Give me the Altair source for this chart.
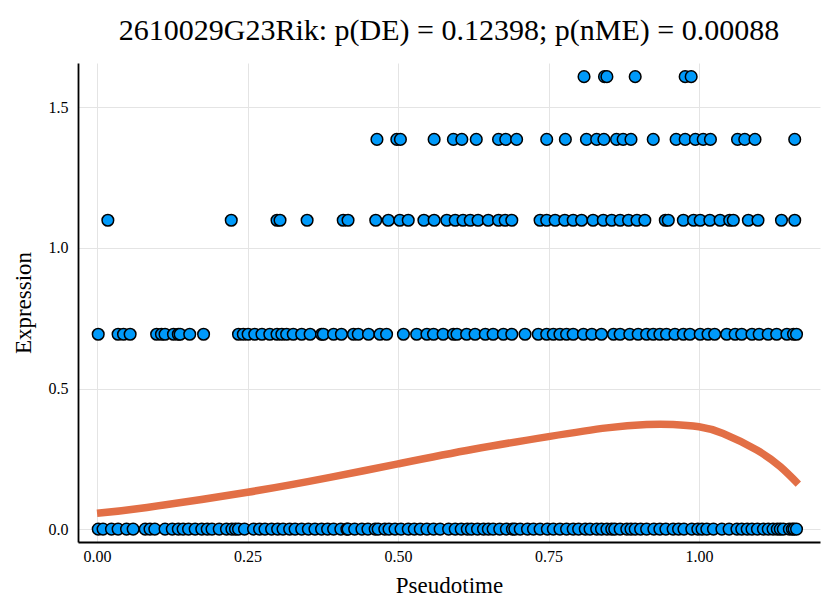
import altair as alt
import pandas as pd
import numpy as np

# Expression levels (log(1+count))
LEVELS = [0.0, 0.6931, 1.0986, 1.3863, 1.6094]

x_level0 = [0.002, 0.010, 0.024, 0.035, 0.049, 0.060, 0.080, 0.088, 0.096, 0.113, 0.125, 0.135,
            0.143, 0.152, 0.163, 0.174, 0.183, 0.191, 0.203, 0.215, 0.224, 0.230, 0.235, 0.245,
            0.260, 0.270, 0.279, 0.290, 0.300, 0.309, 0.320, 0.329, 0.340, 0.351, 0.362, 0.373,
            0.383, 0.393, 0.405, 0.415, 0.417, 0.428, 0.440, 0.450, 0.462, 0.467, 0.478, 0.485,
            0.495, 0.505, 0.517, 0.527, 0.537, 0.548, 0.559, 0.570, 0.584, 0.595, 0.605, 0.615,
            0.622, 0.632, 0.642, 0.650, 0.658, 0.669, 0.680, 0.690, 0.694, 0.703, 0.715, 0.725,
            0.736, 0.748, 0.758, 0.769, 0.780, 0.791, 0.800, 0.811, 0.819, 0.830, 0.838, 0.847,
            0.855, 0.860, 0.869, 0.880, 0.887, 0.894, 0.903, 0.913, 0.925, 0.935, 0.945, 0.957,
            0.966, 0.975, 0.988, 0.998, 1.005, 1.013, 1.024, 1.038, 1.050, 1.063, 1.071, 1.080,
            1.088, 1.097, 1.107, 1.115, 1.123, 1.130, 1.135, 1.140, 1.150, 1.155, 1.158, 1.162]

x_level1 = [0.002, 0.035, 0.044, 0.055, 0.099, 0.107, 0.113, 0.127, 0.135, 0.138, 0.154, 0.177,
            0.235, 0.243, 0.251, 0.262, 0.274, 0.287, 0.299, 0.307, 0.315, 0.326, 0.340, 0.354,
            0.373, 0.376, 0.393, 0.406, 0.426, 0.434, 0.451, 0.470, 0.481, 0.509, 0.531, 0.548,
            0.559, 0.575, 0.592, 0.598, 0.614, 0.628, 0.645, 0.658, 0.675, 0.689, 0.711, 0.733,
            0.747, 0.758, 0.769, 0.780, 0.791, 0.808, 0.822, 0.838, 0.858, 0.869, 0.885, 0.899,
            0.913, 0.924, 0.935, 0.946, 0.960, 0.974, 0.985, 1.002, 1.015, 1.026, 1.046, 1.060,
            1.071, 1.088, 1.100, 1.115, 1.129, 1.146, 1.157, 1.162]

x_level2 = [0.018, 0.223, 0.299, 0.304, 0.349, 0.409, 0.417, 0.463, 0.484, 0.503, 0.517, 0.543,
            0.560, 0.581, 0.595, 0.608, 0.620, 0.633, 0.650, 0.667, 0.678, 0.689, 0.736, 0.747,
            0.761, 0.777, 0.791, 0.805, 0.824, 0.841, 0.855, 0.869, 0.883, 0.897, 0.910, 0.944,
            0.949, 0.974, 0.991, 1.002, 1.018, 1.035, 1.051, 1.057, 1.082, 1.098, 1.137, 1.159]

x_level3 = [0.465, 0.498, 0.504, 0.560, 0.592, 0.606, 0.630, 0.667, 0.679, 0.697, 0.747, 0.778,
            0.813, 0.830, 0.842, 0.863, 0.874, 0.887, 0.924, 0.962, 0.977, 0.994, 1.007, 1.019,
            1.064, 1.076, 1.093, 1.159]

x_level4 = [0.809, 0.843, 0.847, 0.894, 0.977, 0.987]

# Smooth fitted curve
curve_x = [0.000, 0.083, 0.250, 0.387, 0.500, 0.625, 0.750, 0.847, 0.913, 0.957, 1.000,
           1.040, 1.096, 1.135, 1.165]
curve_y = [0.056, 0.077, 0.131, 0.184, 0.232, 0.284, 0.329, 0.360, 0.372, 0.372, 0.364,
           0.340, 0.281, 0.222, 0.160]

x_ticks = [0.0, 0.25, 0.5, 0.75, 1.0]
y_ticks = [0.0, 0.5, 1.0, 1.5]

TITLE = "2610029G23Rik: p(DE) = 0.12398; p(nME) = 0.00088"
FONT = "Liberation Serif"

rows = []
for lvl, xs in zip(LEVELS, [x_level0, x_level1, x_level2, x_level3, x_level4]):
    for xv in xs:
        rows.append({"Pseudotime": xv, "Expression": lvl})
pts = pd.DataFrame(rows)
curve = pd.DataFrame({"Pseudotime": curve_x, "Expression": curve_y})

xscale = alt.Scale(domain=[-0.0316, 1.201], nice=False, zero=False)
yscale = alt.Scale(domain=[-0.046, 1.658], nice=False, zero=False)

xaxis = alt.Axis(values=x_ticks, format=".2f", title="Pseudotime", tickSize=0,
                 labelPadding=6, titlePadding=10)
yaxis = alt.Axis(values=y_ticks, format=".1f", title="Expression", tickSize=0,
                 labelPadding=10, titlePadding=13)

scatter = alt.Chart(pts).mark_circle(
    size=135, color="#009AFA", opacity=1, stroke="black", strokeWidth=1.5
).encode(
    x=alt.X("Pseudotime:Q", scale=xscale, axis=xaxis),
    y=alt.Y("Expression:Q", scale=yscale, axis=yaxis),
)

line = alt.Chart(curve).mark_line(
    color="#E26F46", strokeWidth=7.5, interpolate="natural", strokeCap="butt"
).encode(
    x=alt.X("Pseudotime:Q", scale=xscale),
    y=alt.Y("Expression:Q", scale=yscale),
)

chart = alt.layer(scatter, line).properties(
    width=742, height=479,
    title=alt.TitleParams(TITLE, font=FONT, fontSize=30, fontWeight="normal",
                          anchor="middle", frame="group", offset=17, color="black"),
    autosize=alt.AutoSizeParams(type="none"),
    padding={"left": 70, "top": 55, "right": 1, "bottom": 62},
    background="white",
).configure_view(stroke=None).configure_axis(
    labelFont=FONT, titleFont=FONT, labelFontSize=16, titleFontSize=23,
    titleFontWeight="normal", labelColor="black", titleColor="black",
    domainColor="black", domainWidth=1.8, gridColor="#e4e4e4", gridWidth=1,
)

chart.save("out.html", embed_options={"renderer": "svg", "actions": False})
